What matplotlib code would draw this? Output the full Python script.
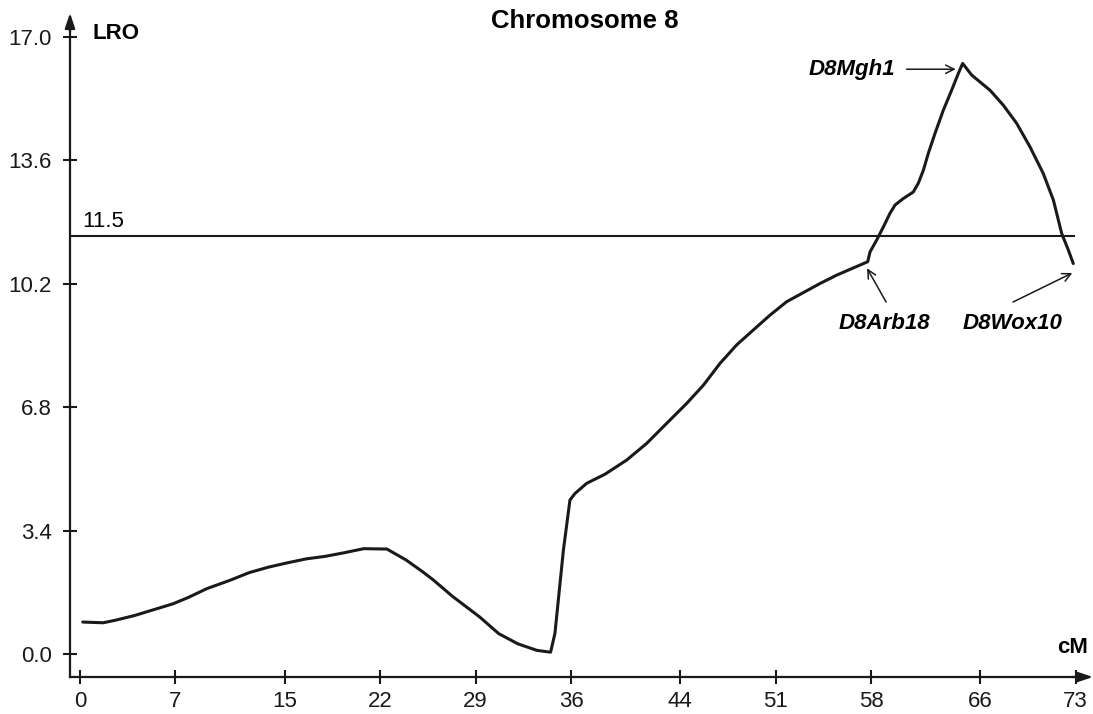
import matplotlib
matplotlib.use("Agg")
import matplotlib.pyplot as plt

plt.rcParams['font.family'] = ['Liberation Sans', 'DejaVu Sans']

# LOD profile along chromosome 8 (cM, LRO)
pos_cm = [0.2, 1.7, 2.6, 4.0, 5.4, 6.8, 7.9, 9.3, 11.0, 12.4, 13.8, 15.2, 16.6,
          18.0, 19.4, 20.8, 22.5, 23.9, 25.1, 25.9, 27.3, 29.3, 30.7, 32.1, 33.5,
          34.5, 34.82, 35.44, 35.92, 36.29, 37.15, 38.49, 40.08, 41.55, 43.01,
          44.48, 45.7, 46.92, 48.14, 49.36, 50.59, 51.81, 53.03, 54.25, 55.47,
          56.7, 57.75, 57.92, 58.41, 58.9, 59.38, 59.75, 60.36, 61.09, 61.46,
          61.83, 62.19, 62.68, 63.29, 63.9, 64.39, 64.71, 65.37, 65.98, 66.72,
          67.69, 68.67, 69.65, 70.62, 71.36, 71.97, 72.46, 72.82]
lro = [0.88, 0.86, 0.93, 1.06, 1.22, 1.38, 1.55, 1.80, 2.03, 2.24, 2.39, 2.51, 2.62,
       2.69, 2.79, 2.90, 2.89, 2.59, 2.27, 2.04, 1.59, 1.02, 0.56, 0.28, 0.10,
       0.05, 0.57, 2.86, 4.24, 4.42, 4.70, 4.95, 5.34, 5.80, 6.35,
       6.90, 7.40, 8.00, 8.51, 8.92, 9.33, 9.70, 9.95, 10.20, 10.43,
       10.63, 10.80, 11.07, 11.40, 11.76, 12.13, 12.36, 12.54, 12.72, 12.96,
       13.32, 13.78, 14.33, 14.97, 15.52, 15.98, 16.26, 15.94, 15.75, 15.52,
       15.11, 14.61, 13.96, 13.23, 12.50, 11.58, 11.12, 10.75]

threshold = 11.5
x_ticks = [0, 7, 15, 22, 29, 36, 44, 51, 58, 66, 73]
y_ticks = [0.0, 3.4, 6.8, 10.2, 13.6, 17.0]

markers = ["D8Mgh1", "D8Arb18", "D8Wox10"]
label_pos = [(59.75, 16.10), (59.0, 9.11), (68.4, 9.11)]
arrow_tail = [(60.6, 16.10), (59.1, 9.69), (68.4, 9.69)]
arrow_head = [(64.2, 16.10), (57.7, 10.62), (72.75, 10.49)]

fig = plt.figure(figsize=(10.93, 7.14), dpi=100)
ax = fig.add_axes([70 / 1093, 37 / 714, 1012 / 1093, 651 / 714])

ax.plot(pos_cm, lro, color='#1a1a1a', lw=2.2, solid_joinstyle='round',
        solid_capstyle='round')
ax.plot([-0.75, 72.9], [threshold, threshold], color='#1a1a1a', lw=1.5)
ax.text(0.15, 11.9, "11.5", fontsize=16, ha='left', va='center')

ax.set_xlim(-0.733, 73.46)
ax.set_ylim(-0.633, 17.29)

for s in ['top', 'right']:
    ax.spines[s].set_visible(False)
for s in ['left', 'bottom']:
    ax.spines[s].set_linewidth(1.6)
    ax.spines[s].set_color('#1a1a1a')

ax.set_xticks(x_ticks)
ax.set_xticklabels([str(t) for t in x_ticks])
ax.set_yticks(y_ticks)
ax.set_yticklabels(["%.1f" % t for t in y_ticks])
ax.tick_params(axis='both', direction='inout', length=10, width=1.5,
               labelsize=16, colors='#1a1a1a')
ax.tick_params(axis='y', pad=8)
ax.tick_params(axis='x', pad=5)

# axis arrow heads
ax.annotate('', xy=(0, 1 + 13 / 651), xytext=(0, 0.99), xycoords='axes fraction',
            arrowprops=dict(arrowstyle='-|>,head_length=0.9,head_width=0.3',
                            lw=1.6, color='#1a1a1a', shrinkA=0, shrinkB=0))
ax.annotate('', xy=(1 + 11 / 1012, 0), xytext=(0.99, 0), xycoords='axes fraction',
            arrowprops=dict(arrowstyle='-|>,head_length=0.9,head_width=0.3',
                            lw=1.6, color='#1a1a1a', shrinkA=0, shrinkB=0))

ax.text(0.88, 17.09, "LRO", fontsize=16, fontweight='bold', ha='left', va='center')
ax.text(73.9, 0.17, "cM", fontsize=16, fontweight='bold', ha='right', va='center',
        clip_on=False)
fig.text(585 / 1093, 1 - 21 / 714, "Chromosome 8", fontsize=18.5, fontweight='bold',
         ha='center', va='center')

# marker annotations
for i, name in enumerate(markers):
    ha = 'right' if i == 0 else 'center'
    ax.text(label_pos[i][0], label_pos[i][1], name, fontsize=16, fontweight='bold',
            fontstyle='italic', ha=ha, va='center')
    ax.annotate('', xy=arrow_head[i], xytext=arrow_tail[i],
                arrowprops=dict(arrowstyle='->,head_length=0.6,head_width=0.3',
                                lw=1.1, color='#1a1a1a', shrinkA=0, shrinkB=0))

fig.savefig("out.png", dpi=100)
